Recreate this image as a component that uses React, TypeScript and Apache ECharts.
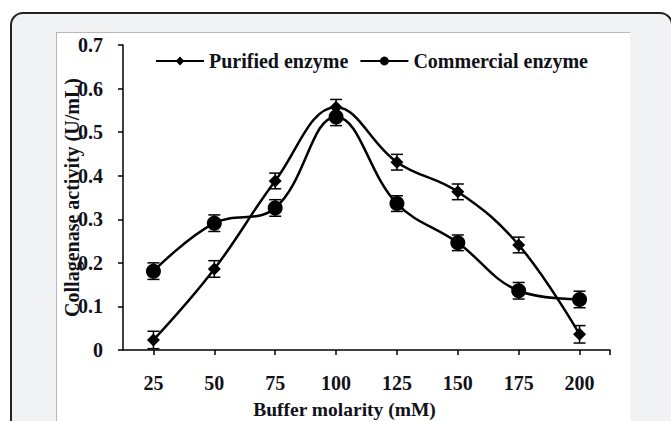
import React, { useEffect, useRef } from "react";
import * as echarts from "echarts";

const categories = [25, 50, 75, 100, 125, 150, 175, 200];
const purified = [0.023, 0.186, 0.388, 0.557, 0.431, 0.363, 0.241, 0.036];
const commercial = [0.181, 0.291, 0.326, 0.535, 0.336, 0.246, 0.136, 0.116];
const purifiedErr = [0.02, 0.019, 0.018, 0.018, 0.018, 0.018, 0.018, 0.02];
const commercialErr = [0.019, 0.019, 0.019, 0.02, 0.018, 0.018, 0.019, 0.019];
const xTickValues = [25, 50, 75, 100, 125, 150, 175, 200, 212.5];
const yTicks = [0, 0.1, 0.2, 0.3, 0.4, 0.5, 0.6, 0.7];

const FONT = '"Liberation Serif", "Times New Roman", serif';
const TXT = "#111118";

function errData(vals: number[], errs: number[]) {
  return categories.map((c, i) => [c, vals[i] - errs[i], vals[i] + errs[i]]);
}

function renderErr(params: any, api: any) {
  const x = api.value(0);
  const top = api.coord([x, api.value(2)]);
  const bot = api.coord([x, api.value(1)]);
  const hw = 6;
  const style = { stroke: "#000", lineWidth: 1.5 };
  return {
    type: "group",
    children: [
      { type: "line", shape: { x1: top[0], y1: top[1], x2: bot[0], y2: bot[1] }, style },
      { type: "line", shape: { x1: top[0] - hw, y1: top[1], x2: top[0] + hw, y2: top[1] }, style },
      { type: "line", shape: { x1: bot[0] - hw, y1: bot[1], x2: bot[0] + hw, y2: bot[1] }, style },
    ],
  };
}

export default function App() {
  const ref = useRef<HTMLDivElement>(null);
  useEffect(() => {
    const chart = echarts.init(ref.current!, null, { renderer: "svg" });
    chart.setOption({
      animation: false,
      backgroundColor: "transparent",
      grid: { left: 123, top: 45, width: 487, height: 305, outerBoundsMode: "none" } as any,
      legend: {
        data: ["Purified enzyme", "Commercial enzyme"],
        left: 150,
        top: 46,
        itemWidth: 48,
        itemHeight: 11,
        itemGap: 11,
        textStyle: { fontFamily: FONT, fontWeight: "bold", fontSize: 20, color: TXT },
      },
      xAxis: {
        type: "value",
        min: 12.5,
        max: 212.5,
        name: "Buffer molarity (mM)",
        nameLocation: "middle",
        nameGap: 49,
        nameMoveOverlap: false,
        nameTextStyle: { fontFamily: FONT, fontWeight: "bold", fontSize: 19.5, color: TXT, padding: [0, 44, 0, 0] },
        axisLine: { show: true, lineStyle: { color: "#000", width: 1.5 } },
        axisTick: { show: true, length: 5, customValues: xTickValues, lineStyle: { color: "#000", width: 1.5 } },
        axisLabel: {
          customValues: categories,
          margin: 23,
          fontFamily: FONT,
          fontWeight: "bold",
          fontSize: 20,
          color: TXT,
        },
        splitLine: { show: false },
      } as any,
      yAxis: {
        type: "value",
        min: 0,
        max: 0.7,
        interval: 0.1,
        name: "Collagenase activity (U/mL)",
        nameLocation: "middle",
        nameGap: 41,
        nameMoveOverlap: false,
        nameTextStyle: { fontFamily: FONT, fontWeight: "bold", fontSize: 20, color: TXT },
        axisLine: { show: true, lineStyle: { color: "#000", width: 1.5 } },
        axisTick: { show: true, length: 5, lineStyle: { color: "#000", width: 1.5 } },
        axisLabel: {
          margin: 20,
          fontFamily: FONT,
          fontWeight: "bold",
          fontSize: 20,
          color: TXT,
          formatter: (v: number) => {
            const t = yTicks.find((k) => Math.abs(k - v) < 1e-6);
            const val = t === undefined ? v : t;
            return val === 0 ? "0" : val.toFixed(1);
          },
        },
        splitLine: { show: false },
      } as any,
      series: [
        {
          name: "Purified enzyme",
          type: "line",
          smooth: 0.4,
          data: categories.map((c, i) => [c, purified[i]]),
          symbol: "diamond",
          symbolSize: 13,
          lineStyle: { color: "#000", width: 2.5 },
          itemStyle: { color: "#000" },
          z: 3,
        },
        {
          name: "Commercial enzyme",
          type: "line",
          smooth: 0.4,
          data: categories.map((c, i) => [c, commercial[i]]),
          symbol: "circle",
          symbolSize: 15,
          lineStyle: { color: "#000", width: 2.5 },
          itemStyle: { color: "#000" },
          z: 3,
        },
        {
          name: "Purified error",
          type: "custom",
          data: errData(purified, purifiedErr),
          renderItem: renderErr,
          encode: { x: 0, y: [1, 2] },
          z: 4,
        },
        {
          name: "Commercial error",
          type: "custom",
          data: errData(commercial, commercialErr),
          renderItem: renderErr,
          encode: { x: 0, y: [1, 2] },
          z: 4,
        },
      ],
    });
    return () => chart.dispose();
  }, []);

  return (
    <div style={{ position: "fixed", left: 0, top: 0, width: 671, height: 421, background: "#fff", overflow: "hidden" }}>
      <div
        style={{
          position: "absolute",
          left: 10,
          top: 12,
          width: 663,
          height: 460,
          boxSizing: "border-box",
          border: "2px solid #222",
          borderRadius: 13,
          background: "#f1f2f4",
        }}
      />
      <div
        style={{
          position: "absolute",
          left: 56,
          top: 32,
          width: 574,
          height: 420,
          boxSizing: "border-box",
          background: "#fff",
          borderLeft: "1px solid #b8b8b8",
          borderTop: "1px solid #b8b8b8",
        }}
      />
      <div ref={ref} style={{ position: "absolute", left: 0, top: 0, width: 671, height: 421 }} />
    </div>
  );
}
